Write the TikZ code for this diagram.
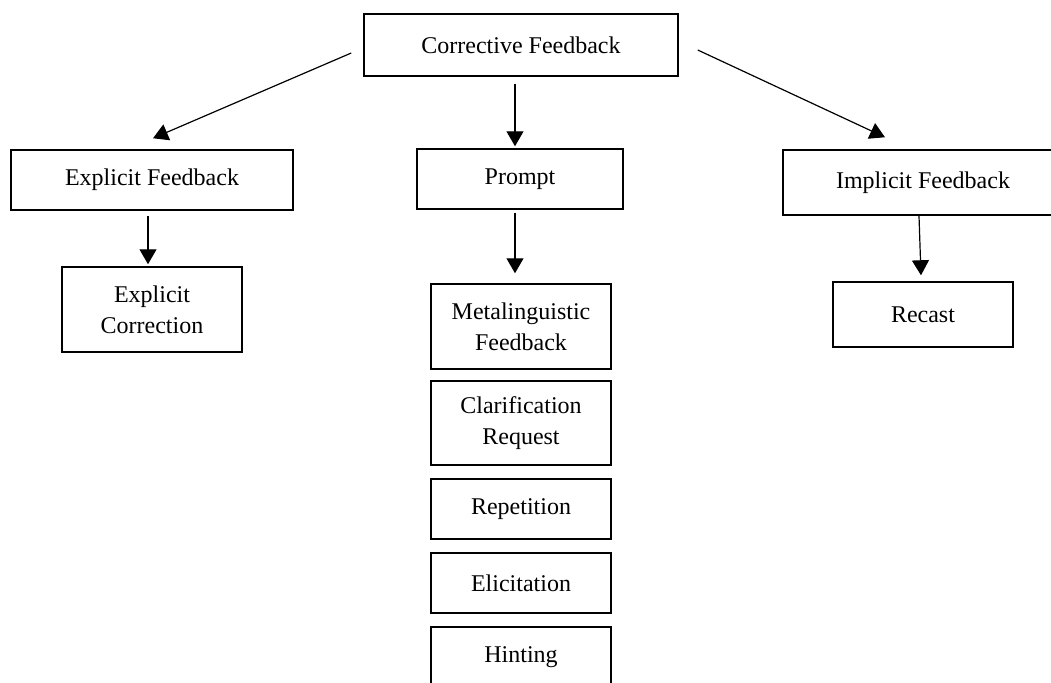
\documentclass[tikz,border=0pt]{standalone}
\usepackage{fontspec}
\setmainfont{Liberation Serif}
\usetikzlibrary{positioning, arrows.meta}

\begin{document}
\begin{tikzpicture}[
    x=0.5pt, y=-0.5pt,
    node distance=6.25pt,
    fb box/.style={
      rectangle,
      draw=black,
      line width=0.75pt,
      align=center,
      inner sep=2pt,
      minimum width=90pt,
      font=\fontsize{12}{15.5}\selectfont
    },
    fb arrow/.style={
      -{Triangle[width=8.5pt,length=7.5pt]},
      line width=0.6pt,
      color=black
    }
  ]

    \useasboundingbox (0,0) rectangle (1051,682);

    % top level
    \node[fb box, minimum width=157pt, minimum height=31pt] (corrective) at (521,45) {Corrective Feedback};

    \node[fb box, minimum width=141pt, minimum height=30pt] (explicit) at (152,180) {Explicit Feedback};
    \node[fb box, minimum width=103pt, minimum height=30pt] (prompt) at (520,179) {Prompt};
    \node[fb box, minimum width=140pt, minimum height=32.5pt] (implicit) at (923,182.5) {Implicit Feedback};

    % second level
    \node[fb box, minimum height=42.5pt] (correction) at (152,309.5) {Explicit\\Correction};
    \node[fb box, minimum height=32.5pt] (recast) at (923,314.5) {Recast};

    \node[fb box, minimum height=42.5pt] (metaling) at (521,326.5) {Metalinguistic\\Feedback};
    \node[fb box, minimum height=42pt, below=5.25pt of metaling] (clarif) {Clarification\\Request};
    \node[fb box, minimum height=30pt, below=of clarif] (repet) {Repetition};
    \node[fb box, minimum height=30pt, below=of repet] (elicit) {Elicitation};
    \node[fb box, minimum height=30pt, below=of elicit] (hinting) {Hinting};

    \draw[fb arrow] ([shift={(-12,8)}]corrective.west) -- ([shift={(1,-11)}]explicit.north);
    \draw[fb arrow] ([shift={(-6,7)}]corrective.south) -- ([shift={(-5,-2)}]prompt.north);
    \draw[fb arrow] ([shift={(19,5)}]corrective.east) -- ([shift={(-38,-12)}]implicit.north);

    \draw[fb arrow] ([shift={(-4,5)}]explicit.south) -- ([shift={(-4,-2)}]correction.north);
    \draw[fb arrow] ([shift={(-5,3)}]prompt.south) -- ([shift={(-6,-10)}]metaling.north);
    \draw[fb arrow] ([shift={(-4,0)}]implicit.south) -- ([shift={(-2,-6)}]recast.north);

  \end{tikzpicture}
\end{document}
